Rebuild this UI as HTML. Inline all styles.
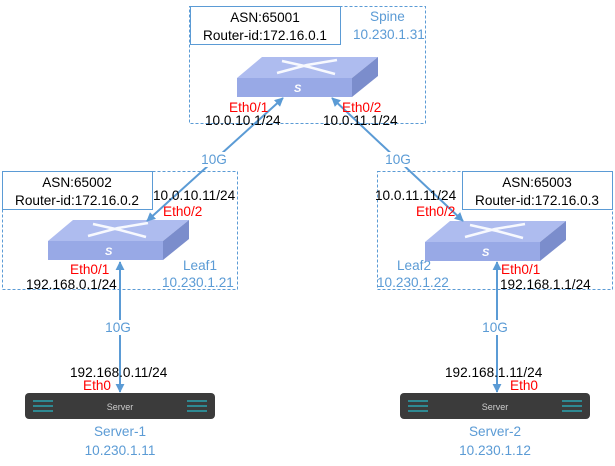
<!DOCTYPE html>
<html><head><meta charset="utf-8"><style>
html,body{margin:0;padding:0;background:#fff;}
svg{display:block;font-family:"Liberation Sans","DejaVu Sans",sans-serif;}
.k{font-size:13.6px;fill:#000}
.r{font-size:13.6px;fill:#ff0000}
.b{font-size:13.6px;fill:#5b9bd5}
</style></head><body>
<svg width="615" height="466" viewBox="0 0 615 466">
<defs>
<marker id="a" viewBox="0 0 10 10" refX="9" refY="5" markerWidth="9" markerHeight="9" orient="auto-start-reverse" markerUnits="userSpaceOnUse"><path d="M0,0 L10,5 L0,10 z" fill="#5b9bd5"/></marker>
<g id="sw">
<polygon points="0,21 115,21 141,0 25,0" fill="#aebcef"/>
<polygon points="0,21 115,21 115,40 0,40" fill="#98a9e6"/>
<polygon points="115,21 141,0 141,19 115,40" fill="#7b8dcc"/>
<path d="M40,16 L70,8 L100,3 M45,4 L72,10 L98,17" stroke="#fff" stroke-width="2.5" fill="none" opacity=".9"/>
<text x="57" y="35" font-size="11" font-weight="bold" font-style="italic" fill="#fff">S</text>
</g>
<g id="sv">
<rect x="0" y="0" width="190" height="26" rx="4" fill="#3b3b3b"/>
<path d="M8,8h20M8,13h20M8,18h20M162,8h20M162,13h20M162,18h20" stroke="#2aa3b0" stroke-width="1.5"/>
<text x="95" y="17" font-size="9" fill="#ccc" text-anchor="middle">Server</text>
</g>
</defs>
<rect x="189.5" y="6.5" width="236" height="117" fill="none" stroke="#5b9bd5" stroke-dasharray="3,2"/>
<rect x="190.5" y="6.5" width="150" height="38" fill="#fff" stroke="#5b9bd5"/>
<rect x="2.5" y="171.5" width="235" height="118" fill="none" stroke="#5b9bd5" stroke-dasharray="3,2"/>
<rect x="2.5" y="171.5" width="150" height="38" fill="#fff" stroke="#5b9bd5"/>
<rect x="377.5" y="171.5" width="235" height="118" fill="none" stroke="#5b9bd5" stroke-dasharray="3,2"/>
<rect x="462.5" y="171.5" width="150" height="38" fill="#fff" stroke="#5b9bd5"/>
<text class="k" x="265" y="22" text-anchor="middle">ASN:65001</text>
<text class="k" x="265" y="40" text-anchor="middle">Router-id:172.16.0.1</text>
<text class="k" x="77" y="187" text-anchor="middle">ASN:65002</text>
<text class="k" x="77" y="205" text-anchor="middle">Router-id:172.16.0.2</text>
<text class="k" x="537" y="187" text-anchor="middle">ASN:65003</text>
<text class="k" x="537" y="205" text-anchor="middle">Router-id:172.16.0.3</text>
<text class="b" x="370" y="21">Spine</text>
<text class="b" x="353" y="39">10.230.1.31</text>
<text class="b" x="183" y="270">Leaf1</text>
<text class="b" x="162" y="287">10.230.1.21</text>
<text class="b" x="397" y="270">Leaf2</text>
<text class="b" x="377" y="287">10.230.1.22</text>
<use href="#sw" x="237" y="57"/>
<use href="#sw" x="48" y="220"/>
<use href="#sw" x="425" y="221"/>
<line x1="147" y1="221" x2="283" y2="98" stroke="#5b9bd5" stroke-width="2" marker-start="url(#a)" marker-end="url(#a)"/>
<line x1="463" y1="221" x2="332" y2="98" stroke="#5b9bd5" stroke-width="2" marker-start="url(#a)" marker-end="url(#a)"/>
<line x1="120" y1="262" x2="120" y2="392" stroke="#5b9bd5" stroke-width="2" marker-start="url(#a)" marker-end="url(#a)"/>
<line x1="497" y1="262" x2="497" y2="392" stroke="#5b9bd5" stroke-width="2" marker-start="url(#a)" marker-end="url(#a)"/>
<rect x="201" y="152" width="26" height="15" fill="#fff"/>
<rect x="385" y="152" width="26" height="15" fill="#fff"/>
<rect x="105" y="320" width="26" height="15" fill="#fff"/>
<rect x="482" y="320" width="26" height="15" fill="#fff"/>
<text class="b" x="214" y="164" text-anchor="middle">10G</text>
<text class="b" x="398" y="164" text-anchor="middle">10G</text>
<text class="b" x="118" y="332" text-anchor="middle">10G</text>
<text class="b" x="495" y="332" text-anchor="middle">10G</text>
<text class="r" x="229" y="112">Eth0/1</text>
<text class="k" x="205" y="125">10.0.10.1/24</text>
<text class="r" x="342" y="112">Eth0/2</text>
<text class="k" x="323" y="125">10.0.11.1/24</text>
<text class="k" x="153" y="200">10.0.10.11/24</text>
<text class="r" x="163" y="216">Eth0/2</text>
<text class="r" x="70" y="274">Eth0/1</text>
<text class="k" x="26" y="289">192.168.0.1/24</text>
<text class="k" x="375" y="200">10.0.11.11/24</text>
<text class="r" x="416" y="216">Eth0/2</text>
<text class="r" x="501" y="274">Eth0/1</text>
<text class="k" x="500" y="289">192.168.1.1/24</text>
<use href="#sv" x="25" y="393"/>
<use href="#sv" x="400" y="393"/>
<text class="k" x="70" y="377">192.168.0.11/24</text>
<text class="r" x="83" y="390">Eth0</text>
<text class="k" x="445" y="377">192.168.1.11/24</text>
<text class="r" x="510" y="390">Eth0</text>
<text class="b" x="120" y="436" text-anchor="middle">Server-1</text>
<text class="b" x="120" y="455" text-anchor="middle">10.230.1.11</text>
<text class="b" x="495" y="436" text-anchor="middle">Server-2</text>
<text class="b" x="495" y="455" text-anchor="middle">10.230.1.12</text>
</svg>
</body></html>
